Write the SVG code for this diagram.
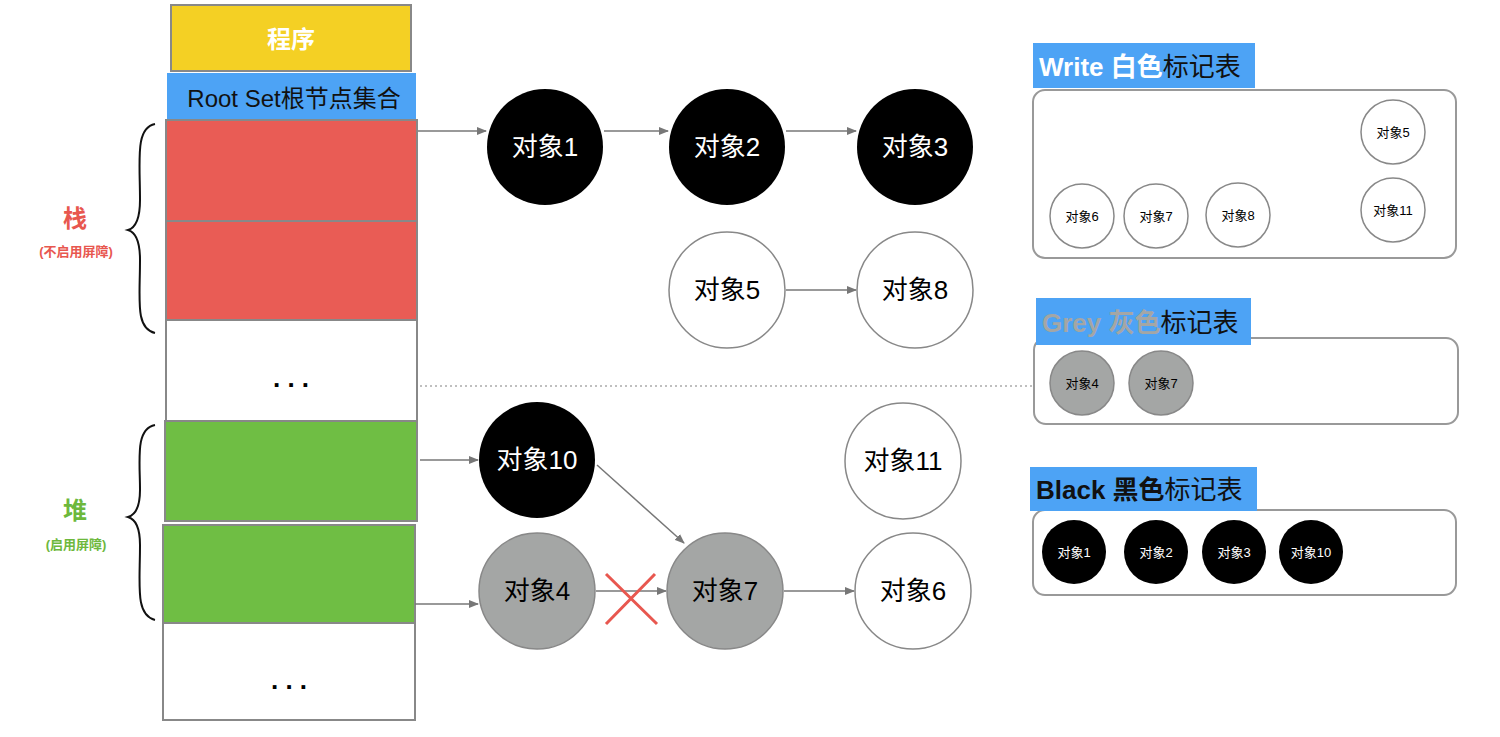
<svg xmlns="http://www.w3.org/2000/svg" width="1500" height="737" viewBox="0 0 1500 737">
<style>
text{font-family:"Liberation Sans","Noto Sans CJK SC",sans-serif;text-anchor:middle;dominant-baseline:central}
.blk{stroke:#888;stroke-width:2}
.big{font-size:26px}
.sm{font-size:13px}
.c{stroke:#888;stroke-width:1.5}
.edge{stroke:#777;stroke-width:1.5;fill:none;marker-end:url(#ah)}
.panel{fill:#fff;stroke:#999;stroke-width:2}
.lab{fill:#4DA3F5}
.lt{font-size:26px;font-weight:bold;text-anchor:start}
</style>
<defs><marker id="ah" markerWidth="10" markerHeight="8" refX="9" refY="4" orient="auto" markerUnits="userSpaceOnUse"><path d="M0,0 L10,4 L0,8 z" fill="#777"/></marker></defs>
<rect width="1500" height="737" fill="#fff"/>
<g id="stack">
<rect x="171" y="5" width="240" height="66" fill="#F4D024" class="blk"/>
<text x="291" y="39" font-size="24" font-weight="bold" fill="#fff">程序</text>
<rect x="167" y="73" width="249" height="47" fill="#4DA3F5"/>
<text x="294" y="98" font-size="24" fill="#111">Root Set根节点集合</text>
<rect x="166" y="120" width="251" height="101" fill="#E95C55" class="blk"/>
<rect x="166" y="221" width="251" height="99" fill="#E95C55" class="blk"/>
<rect x="166" y="320" width="251" height="101" fill="#fff" class="blk"/>
<text x="291" y="378" font-size="26" font-weight="bold">. . .</text>
<rect x="165" y="421" width="252" height="100" fill="#6FBE44" class="blk"/>
<rect x="163" y="525" width="252" height="98" fill="#6FBE44" class="blk"/>
<rect x="163" y="623" width="252" height="97" fill="#fff" class="blk"/>
<text x="289" y="680" font-size="26" font-weight="bold">. . .</text>
<path d="M155,90 M155,124 C135,128 140,160 140,200 C140,220 135,228 128,230 C135,232 140,240 140,260 C140,300 135,328 155,333" fill="none" stroke="#111" stroke-width="2"/>
<path d="M155,425 C135,429 140,460 140,490 C140,508 135,515 128,517 C135,519 140,526 140,545 C140,585 135,615 155,620" fill="none" stroke="#111" stroke-width="2"/>
<text x="75" y="218" font-size="24" font-weight="bold" fill="#E8574F">栈</text>
<text x="76" y="251" font-size="13" font-weight="bold" fill="#E8574F">(不启用屏障)</text>
<text x="75" y="510" font-size="24" font-weight="bold" fill="#6DB83C">堆</text>
<text x="76" y="544" font-size="13" font-weight="bold" fill="#6DB83C">(启用屏障)</text>
</g>
<g id="connectors">
<line x1="418" y1="131" x2="486" y2="131" class="edge"/>
<line x1="604" y1="131" x2="668" y2="131" class="edge"/>
<line x1="786" y1="131" x2="856" y2="131" class="edge"/>
<line x1="786" y1="290" x2="856" y2="290" class="edge"/>
<line x1="420" y1="460" x2="478" y2="460" class="edge"/>
<line x1="597" y1="465" x2="684" y2="543" class="edge"/>
<line x1="415" y1="604" x2="478" y2="604" class="edge"/>
<line x1="596" y1="591" x2="666" y2="591" class="edge"/>
<line x1="784" y1="591" x2="854" y2="591" class="edge"/>
<line x1="420" y1="386" x2="1033" y2="386" stroke="#aaa" stroke-width="1.5" stroke-dasharray="2,3"/>
<path d="M606,574 L657,624 M655,574 L606,624" stroke="#E8574F" stroke-width="3"/>
</g>
<g id="obj1"><circle cx="545" cy="147" r="58" fill="#000"/><text x="545" y="147" class="big" fill="#fff">对象1</text></g>
<g id="obj2"><circle cx="727" cy="147" r="58" fill="#000"/><text x="727" y="147" class="big" fill="#fff">对象2</text></g>
<g id="obj3"><circle cx="915" cy="147" r="58" fill="#000"/><text x="915" y="147" class="big" fill="#fff">对象3</text></g>
<g id="obj5"><circle cx="727" cy="290" r="58" fill="#fff" class="c"/><text x="727" y="290" class="big">对象5</text></g>
<g id="obj8"><circle cx="915" cy="290" r="58" fill="#fff" class="c"/><text x="915" y="290" class="big">对象8</text></g>
<g id="obj10"><circle cx="537" cy="460" r="58" fill="#000"/><text x="537" y="460" class="big" fill="#fff">对象10</text></g>
<g id="obj11"><circle cx="903" cy="461" r="58" fill="#fff" class="c"/><text x="903" y="461" class="big">对象11</text></g>
<g id="obj4"><circle cx="537" cy="591" r="58" fill="#A4A6A5" class="c"/><text x="537" y="591" class="big">对象4</text></g>
<g id="obj7"><circle cx="725" cy="591" r="58" fill="#A4A6A5" class="c"/><text x="725" y="591" class="big">对象7</text></g>
<g id="obj6"><circle cx="913" cy="591" r="58" fill="#fff" class="c"/><text x="913" y="591" class="big">对象6</text></g>
<g id="white-table">
<rect x="1033" y="90" width="423" height="168" rx="12" class="panel"/>
<rect x="1033" y="43" width="222" height="45" class="lab"/>
<text x="1039" y="67" class="lt"><tspan fill="#fff">Write 白色</tspan><tspan fill="#111" font-weight="normal">标记表</tspan></text>
<circle cx="1393" cy="132" r="32" fill="#fff" class="c"/><text x="1393" y="132" class="sm">对象5</text>
<circle cx="1393" cy="210" r="32" fill="#fff" class="c"/><text x="1393" y="210" class="sm">对象11</text>
<circle cx="1082" cy="216" r="32" fill="#fff" class="c"/><text x="1082" y="216" class="sm">对象6</text>
<circle cx="1156" cy="216" r="32" fill="#fff" class="c"/><text x="1156" y="216" class="sm">对象7</text>
<circle cx="1238" cy="215" r="32" fill="#fff" class="c"/><text x="1238" y="215" class="sm">对象8</text>
</g>
<g id="grey-table">
<rect x="1034" y="338" width="424" height="86" rx="12" class="panel"/>
<rect x="1036" y="298" width="215" height="47" class="lab"/>
<text x="1042" y="323" class="lt"><tspan fill="#A4A6A5">Grey 灰色</tspan><tspan fill="#111" font-weight="normal">标记表</tspan></text>
<circle cx="1082" cy="383" r="32" fill="#A4A6A5" class="c"/><text x="1082" y="383" class="sm">对象4</text>
<circle cx="1161" cy="383" r="32" fill="#A4A6A5" class="c"/><text x="1161" y="383" class="sm">对象7</text>
</g>
<g id="black-table">
<rect x="1033" y="510" width="423" height="85" rx="12" class="panel"/>
<rect x="1030" y="467" width="227" height="44" class="lab"/>
<text x="1036" y="490" class="lt"><tspan fill="#111">Black 黑色</tspan><tspan fill="#111" font-weight="normal">标记表</tspan></text>
<circle cx="1074" cy="552" r="32" fill="#000"/><text x="1074" y="552" class="sm" fill="#fff">对象1</text>
<circle cx="1156" cy="552" r="32" fill="#000"/><text x="1156" y="552" class="sm" fill="#fff">对象2</text>
<circle cx="1234" cy="552" r="32" fill="#000"/><text x="1234" y="552" class="sm" fill="#fff">对象3</text>
<circle cx="1311" cy="552" r="32" fill="#000"/><text x="1311" y="552" class="sm" fill="#fff">对象10</text>
</g>
</svg>
